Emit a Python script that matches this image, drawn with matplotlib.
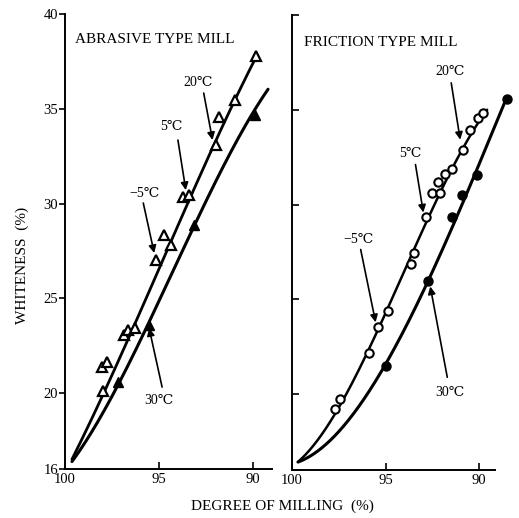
import numpy as np
import matplotlib
matplotlib.use('Agg')
import matplotlib.pyplot as plt

plt.rcParams['font.family'] = ['Liberation Serif', 'DejaVu Serif']

# abrasive type mill: open triangles (-5 to 20 C), filled triangles (30 C)
abr_open_x = [98.0, 98.05, 97.79, 96.84, 96.63, 96.26, 95.16, 94.74, 94.37,
              93.74, 93.42, 91.95, 91.79, 90.95, 89.84]
abr_open_y = [20.1, 21.37, 21.64, 23.06, 23.32, 23.43, 27.02, 28.34, 27.81,
              30.34, 30.45, 33.09, 34.56, 35.46, 37.78]
abr_fill_x = [97.16, 95.53, 93.16, 89.89]
abr_fill_y = [20.58, 23.59, 28.87, 34.67]

# points along the hand-drawn curves
abr_open_cx = [99.63, 98.63, 97.95, 97.0, 95.84, 93.42, 92.0, 90.95, 89.79]
abr_open_cy = [16.52, 18.21, 20.16, 22.27, 24.38, 30.45, 33.09, 35.46, 37.84]
abr_fill_cx = [99.63, 98.32, 97.26, 95.74, 95.26, 93.16, 91.84, 90.0, 89.21]
abr_fill_cy = [16.4, 18.05, 20.42, 23.32, 24.38, 28.87, 31.40, 34.62, 36.04]

# friction type mill: open circles (-5 to 20 C), filled circles (30 C)
fri_open_x = [97.71, 97.45, 95.90, 95.43, 94.89, 93.62, 93.46, 92.82, 92.50,
              92.07, 92.18, 91.81, 91.44, 90.85, 90.48, 90.05, 89.79]
fri_open_y = [19.21, 19.74, 22.16, 23.53, 24.37, 26.89, 27.47, 29.32, 30.63,
              30.63, 31.21, 31.63, 31.89, 32.89, 33.95, 34.58, 34.84]
fri_fill_x = [95.0, 92.71, 91.44, 90.90, 90.11, 88.51]
fri_fill_y = [21.47, 25.95, 29.32, 30.53, 31.58, 35.58]

fri_open_cx = [99.68, 98.62, 97.77, 95.90, 94.89, 94.10, 92.87, 90.90, 89.57]
fri_open_cy = [16.42, 17.63, 19.21, 22.16, 24.32, 26.05, 29.37, 32.89, 35.0]
fri_fill_cx = [99.68, 98.30, 96.70, 95.0, 92.71, 90.6, 88.51]
fri_fill_cy = [16.42, 17.11, 19.21, 21.47, 25.95, 30.8, 35.68]

x_ticks = [100, 95, 90]
y_ticks = [16, 20, 25, 30, 35, 40]

fig = plt.figure(figsize=(5.19, 5.18), dpi=100)
W, H = 519, 518
ax1 = fig.add_axes([65 / W, 1 - 469 / H, 207 / W, 455 / H])
ax2 = fig.add_axes([292 / W, 1 - 470 / H, 203 / W, 455 / H])


def smooth(ax, cx, cy, lw, deg=3):
    w = np.ones(len(cx))
    w[0] = w[-1] = 4
    p = np.polyfit(cx, cy, deg, w=w)
    xs = np.linspace(min(cx), max(cx), 200)
    ax.plot(xs, np.polyval(p, xs), color='k', lw=lw, clip_on=False,
            solid_capstyle='round')


def setup(ax, xlim, labels):
    ax.set_xlim(*xlim)
    ax.set_ylim(16, 40)
    for s in ['top', 'right']:
        ax.spines[s].set_visible(False)
    for s in ['left', 'bottom']:
        ax.spines[s].set_linewidth(1.4)
    ax.set_xticks(x_ticks)
    ax.set_xticklabels([str(t) for t in x_ticks], fontsize=10.5)
    ax.tick_params(axis='x', direction='in', length=5, width=1.2, pad=3)
    ax.set_yticks(y_ticks)
    if labels:
        ax.set_yticklabels([str(t) for t in y_ticks], fontsize=10.5)
        ax.tick_params(axis='y', direction='out', length=4, width=1.2, pad=1)
    else:
        ax.set_yticklabels([])
        ax.tick_params(axis='y', direction='in', length=5, width=1.2)


def note(ax, label, txt, start, end):
    ax.text(txt[0], txt[1], label, fontsize=10, ha='center', va='center')
    ax.annotate('', xy=end, xytext=start,
                arrowprops=dict(arrowstyle='-|>', color='k', lw=1.2,
                                mutation_scale=11, shrinkA=0, shrinkB=0))


# left panel
setup(ax1, (99.9, 89.0), True)
smooth(ax1, abr_open_cx, abr_open_cy, 2.0)
smooth(ax1, abr_fill_cx, abr_fill_cy, 2.2)
ax1.plot(abr_open_x, abr_open_y, '^', ms=7, mfc='white', mec='k', mew=1.6,
         clip_on=False)
ax1.plot(abr_fill_x, abr_fill_y, '^', ms=7, mfc='k', mec='k', clip_on=False)
ax1.text(0.05, 0.945, 'ABRASIVE TYPE MILL', transform=ax1.transAxes,
         fontsize=11, va='center')
note(ax1, '20\u2103', (92.95, 36.41), (92.63, 35.83), (92.16, 33.35))
note(ax1, '5\u2103', (94.37, 34.04), (94.0, 33.35), (93.58, 30.71))
note(ax1, '\u22125\u2103', (95.79, 30.55), (95.84, 30.03), (95.26, 27.39))
note(ax1, '30\u2103', (95.0, 19.63), (94.84, 20.32), (95.53, 23.43))

# right panel
setup(ax2, (99.95, 89.15), False)
smooth(ax2, fri_open_cx, fri_open_cy, 1.8)
smooth(ax2, fri_fill_cx, fri_fill_cy, 2.2)
ax2.plot(fri_open_x, fri_open_y, 'o', ms=6, mfc='white', mec='k', mew=1.5,
         clip_on=False)
ax2.plot(fri_fill_x, fri_fill_y, 'o', ms=6.5, mfc='k', mec='k', clip_on=False)
ax2.text(0.06, 0.94, 'FRICTION TYPE MILL', transform=ax2.transAxes,
         fontsize=11, va='center')
note(ax2, '20\u2103', (91.54, 37.0), (91.49, 36.42), (91.01, 33.42))
note(ax2, '5\u2103', (93.67, 32.68), (93.40, 32.11), (92.98, 29.58))
note(ax2, '\u22125\u2103', (96.44, 28.16), (96.33, 27.63), (95.53, 23.79))
note(ax2, '30\u2103', (91.54, 20.1), (91.70, 20.89), (92.61, 25.68))

fig.text(22 / W, 1 - 265 / H, 'WHITENESS  (%)', rotation=90, fontsize=11,
         ha='center', va='center')
fig.text(282 / W, 1 - 506 / H, 'DEGREE OF MILLING  (%)', fontsize=11,
         ha='center', va='center')

fig.savefig('out.png', dpi=100, facecolor='white')
